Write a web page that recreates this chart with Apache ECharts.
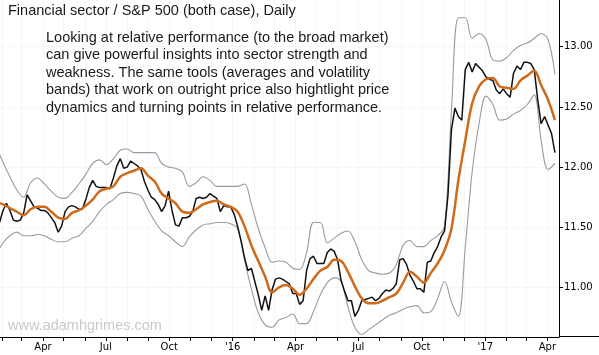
<!DOCTYPE html>
<html><head><meta charset="utf-8">
<script src="https://cdn.jsdelivr.net/npm/echarts@6/dist/echarts.min.js"></script>
<style>html,body{margin:0;padding:0;background:#fff}#c{width:599px;height:355px}</style>
</head><body><div id="c"></div>
<script>
// ---- data ----
const priceStart = [2015, 0, 28];   // first sample date (year, monthIndex, day)
const priceStepDays = 5;
const price = [
 11.54, 11.64, 11.70, 11.64, 11.56, 11.55, 11.56, 11.62, 11.77, 11.72,
 11.67, 11.66, 11.64, 11.64, 11.62, 11.58, 11.54, 11.46, 11.51, 11.63,
 11.67, 11.68, 11.67, 11.65, 11.65, 11.73, 11.83, 11.89, 11.84, 11.83,
 11.83, 11.83, 11.82, 11.91, 12.01, 12.07, 11.99, 12.00, 12.05, 12.03,
 12.01, 11.98, 11.88, 11.81, 11.75, 11.73, 11.69, 11.63, 11.68, 11.80,
 11.64, 11.52, 11.51, 11.58, 11.58, 11.59, 11.63, 11.74, 11.75, 11.74,
 11.75, 11.78, 11.76, 11.74, 11.63, 11.68, 11.67, 11.67, 11.61, 11.51,
 11.39, 11.25, 11.14, 11.16, 11.05, 10.94, 10.81, 10.93, 10.81, 10.98,
 11.07, 11.08, 11.07, 11.05, 11.03, 10.95, 10.95, 10.86, 10.89, 11.14,
 11.24, 11.26, 11.20, 11.20, 11.20, 11.29, 11.32, 11.30, 11.23, 11.06,
 10.97, 10.89, 10.89, 10.76, 10.81, 10.89, 10.90, 10.91, 10.92, 10.89,
 10.91, 10.95, 10.98, 10.97, 10.99, 11.03, 11.23, 11.24, 11.19, 11.10,
 11.05, 10.99, 10.99, 10.96, 11.21, 11.22, 11.29, 11.34, 11.42, 11.47,
 11.77, 12.31, 12.49, 12.42, 12.39, 12.81, 12.87, 12.79, 12.86, 12.83,
 12.80, 12.75, 12.73, 12.72, 12.64, 12.61, 12.65, 12.61, 12.58, 12.78,
 12.84, 12.81, 12.87, 12.87, 12.86, 12.81, 12.56, 12.36, 12.42, 12.35,
 12.28, 12.12
];
const bandStart = [2015, 0, 23];
const bandStepDays = 10;
const movingAvg = [
 11.71, 11.69, 11.66, 11.63, 11.60, 11.65, 11.67, 11.67, 11.63, 11.58,
 11.57, 11.62, 11.64, 11.68, 11.73, 11.80, 11.82, 11.84, 11.92, 11.95,
 11.97, 11.99, 11.93, 11.88, 11.78, 11.74, 11.70, 11.63, 11.62, 11.65,
 11.69, 11.71, 11.72, 11.69, 11.67, 11.63, 11.51, 11.35, 11.22, 11.09,
 10.96, 11.00, 11.02, 10.99, 10.94, 10.99, 11.07, 11.14, 11.17, 11.23,
 11.22, 11.13, 11.01, 10.91, 10.87, 10.87, 10.89, 10.92, 10.95, 11.04,
 11.13, 11.09, 11.04, 11.12, 11.20, 11.31, 11.49, 11.89, 12.22, 12.53,
 12.67, 12.73, 12.74, 12.67, 12.66, 12.65, 12.72, 12.76, 12.80, 12.68,
 12.56, 12.39
];
const upperBand = [
 12.18, 12.04, 11.92, 11.81, 11.75, 11.87, 11.91, 11.86, 11.80, 11.75,
 11.74, 11.79, 11.86, 11.94, 12.03, 12.06, 12.02, 12.07, 12.14, 12.15,
 12.12, 12.12, 12.12, 12.12, 12.03, 12.00, 11.99, 11.96, 11.84, 11.87,
 11.92, 11.89, 11.84, 11.84, 11.84, 11.84, 11.86, 11.69, 11.49, 11.33,
 11.21, 11.22, 11.21, 11.16, 11.15, 11.29, 11.54, 11.54, 11.37, 11.41,
 11.45, 11.47, 11.38, 11.23, 11.14, 11.12, 11.11, 11.12, 11.19, 11.35,
 11.39, 11.34, 11.34, 11.39, 11.43, 11.51, 12.47, 13.24, 13.24, 13.07,
 13.11, 13.06, 12.89, 12.88, 12.91, 12.97, 13.01, 13.03, 13.07, 13.11,
 13.06, 12.77
];
const lowerBand = [
 11.27, 11.37, 11.43, 11.46, 11.43, 11.43, 11.44, 11.43, 11.40, 11.38,
 11.38, 11.41, 11.43, 11.49, 11.55, 11.63, 11.69, 11.73, 11.78, 11.79,
 11.78, 11.76, 11.65, 11.55, 11.47, 11.43, 11.38, 11.34, 11.42, 11.48,
 11.52, 11.53, 11.54, 11.54, 11.53, 11.49, 11.23, 10.99, 10.79, 10.69,
 10.67, 10.73, 10.75, 10.78, 10.70, 10.70, 10.80, 10.94, 11.04, 11.08,
 11.05, 10.84, 10.67, 10.61, 10.65, 10.69, 10.73, 10.77, 10.79, 10.82,
 10.84, 10.85, 10.79, 10.80, 10.91, 11.05, 10.88, 10.76, 11.33, 11.96,
 12.36, 12.59, 12.52, 12.39, 12.40, 12.44, 12.47, 12.52, 12.60, 12.22,
 11.98, 12.03
];
const quarterLabels = ['Apr', 'Jul', 'Oct', "'16", 'Apr', 'Jul', 'Oct', "'17", 'Apr'];
const quarterDates = ['2015-04-01', '2015-07-01', '2015-10-01', '2016-01-01', '2016-04-01',
                      '2016-07-01', '2016-10-01', '2017-01-01', '2017-04-01'];
const yTicks = [11.00, 11.50, 12.00, 12.50, 13.00];
const titleText = 'Financial sector / S&P 500 (both case), Daily';
const noteLines = [
 'Looking at relative performance (to the broad market)',
 'can give powerful insights into sector strength and',
 'weakness. The same tools (averages and volatility',
 'bands) that work on outright price also hightlight price',
 'dynamics and turning points in relative performance.'
];
const watermarkText = 'www.adamhgrimes.com';

// ---- helpers ----
function ts(s) { const p = s.split('-').map(Number); return new Date(p[0], p[1] - 1, p[2]).getTime(); }
function toSeries(start, step, vals) {
  return vals.map((v, i) => [new Date(start[0], start[1], start[2] + step * i).getTime(), v]);
}
const quarterTs = quarterDates.map(ts);
const monthTicks = [];
for (let y = 2015, m = 1; y < 2017 || (y === 2017 && m <= 3);) {
  monthTicks.push(new Date(y, m, 1).getTime());
  m++; if (m > 11) { m = 0; y++; }
}

const chart = echarts.init(document.getElementById('c'), null, { renderer: 'canvas' });
const axisFont = 'DejaVu Sans';
chart.setOption({
  animation: false,
  backgroundColor: '#fff',
  grid: { left: 0, right: 40, top: 0, bottom: 18, containLabel: false },
  xAxis: {
    type: 'value',
    min: new Date(2015, 0, 28, 16).getTime(),
    max: new Date(2017, 3, 17, 21).getTime(),
    axisLine: { show: true, lineStyle: { color: '#000', width: 1 } },
    axisTick: { show: true, customValues: monthTicks, length: 4, lineStyle: { color: '#000' } },
    axisLabel: {
      customValues: quarterTs,
      formatter: (v) => { const i = quarterTs.findIndex(t => Math.abs(t - v) < 864e5); return i >= 0 ? quarterLabels[i] : ''; },
      color: '#000', fontFamily: axisFont, fontSize: 10, margin: 5, hideOverlap: false
    },
    splitLine: { show: true, lineStyle: { color: '#f6f6f6', width: 1 } }
  },
  yAxis: {
    type: 'value', position: 'right', min: 10.589, max: 13.388,
    axisLine: { show: true, lineStyle: { color: '#000', width: 1 } },
    axisTick: { show: true, customValues: yTicks, length: 4, lineStyle: { color: '#000' } },
    axisLabel: {
      customValues: yTicks, formatter: (v) => v.toFixed(2),
      color: '#000', fontFamily: axisFont, fontSize: 10, margin: 5
    },
    splitLine: { show: true, lineStyle: { color: '#f6f6f6', width: 1 } }
  },
  series: [
    { name: 'Upper band', type: 'line', data: toSeries(bandStart, bandStepDays, upperBand), symbol: 'none', smooth: 0.35,
      lineStyle: { color: '#959ca6', width: 1.1 }, z: 2 },
    { name: 'Lower band', type: 'line', data: toSeries(bandStart, bandStepDays, lowerBand), symbol: 'none', smooth: 0.35,
      lineStyle: { color: '#959ca6', width: 1.1 }, z: 2 },
    { name: 'Price', type: 'line', data: toSeries(priceStart, priceStepDays, price), symbol: 'none',
      lineStyle: { color: '#111', width: 1.5 }, z: 3 },
    { name: 'Average', type: 'line', data: toSeries(bandStart, bandStepDays, movingAvg), symbol: 'none', smooth: 0.35,
      lineStyle: { color: '#cf6a1b', width: 2.5 }, z: 4 }
  ],
  graphic: [
    { type: 'line', shape: { x1: 559, y1: 336.5, x2: 599, y2: 336.5 }, style: { stroke: '#000', lineWidth: 1 }, z: 10 },
    { type: 'text', left: 8, top: 3, z: 20,
      style: { text: titleText, font: '14.5px "Liberation Sans", Arial, sans-serif', fill: '#1a1a1a' } },
    { type: 'text', left: 46, top: 29, z: 20,
      style: { text: noteLines.join('\n'), font: '14.5px "Liberation Sans", Arial, sans-serif', fill: '#1a1a1a', lineHeight: 17.5 } },
    { type: 'text', left: 8, top: 318, z: 1,
      style: { text: watermarkText, font: '14.5px "Liberation Sans", Arial, sans-serif', fill: '#cacaca' } }
  ]
});
</script>
</body></html>
